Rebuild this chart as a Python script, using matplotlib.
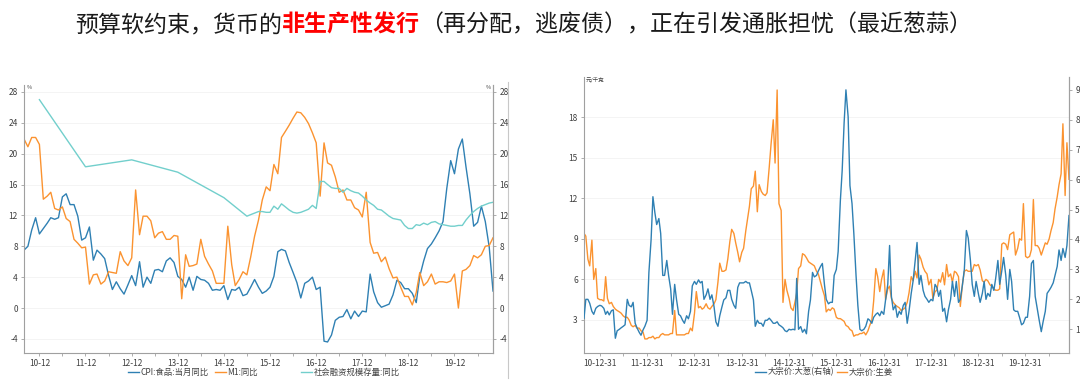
import numpy as np
import pandas as pd
import matplotlib
matplotlib.use("Agg")
import matplotlib.pyplot as plt
import matplotlib.dates as mdates
from matplotlib.lines import Line2D

plt.rcParams['font.family'] = ['Noto Sans CJK SC', 'DejaVu Sans']
plt.rcParams['axes.unicode_minus'] = False

# ---------------- data ----------------
title_parts = [("预算软约束，货币的", "#1a1a1a", "normal"),
               ("非生产性发行", "#ff0000", "bold"),
               ("（再分配，逃废债），正在引发通胀担忧（最近葱蒜）", "#1a1a1a", "normal")]

macro_start = "2010-08"
cpi_food = [7.5, 8.0, 10.1, 11.7, 9.6,
            10.3, 11.0, 11.7, 11.5, 11.7, 14.4, 14.8, 13.4, 13.4, 11.9, 8.8, 9.1,
            10.5, 6.2, 7.5, 7.0, 6.4, 4.2, 2.4, 3.4, 2.5, 1.8, 3.0, 4.2,
            2.9, 6.0, 2.7, 4.0, 3.2, 4.9, 5.0, 4.7, 6.1, 6.5, 5.9, 4.1,
            3.7, 2.7, 4.0, 2.3, 4.1, 3.7, 3.6, 3.2, 2.3, 2.4, 2.3, 2.9,
            1.1, 2.4, 2.3, 2.7, 1.6, 1.8, 2.7, 3.7, 2.7, 1.9, 2.2, 2.7,
            4.1, 7.3, 7.6, 7.4, 5.9, 4.6, 3.3, 1.3, 3.2, 3.5, 4.0, 2.4,
            2.7, -4.3, -4.4, -3.5, -1.6, -1.2, -1.1, -0.2, -1.4, -0.4, -1.1, -0.4,
            -0.5, 4.4, 2.1, 0.7, 0.1, 0.3, 0.5, 1.7, 3.6, 3.3, 2.5, 2.5,
            1.9, 0.7, 4.1, 6.1, 7.7, 8.3, 9.1, 10.0, 11.2, 15.5, 19.1, 17.4,
            20.6, 21.9, 18.3, 14.8, 10.6, 11.1, 13.2, 11.2, 7.9, 2.2]
m1_yoy = [21.9, 20.9, 22.1, 22.1, 21.2,
          14.1, 14.5, 15.0, 12.9, 12.7, 13.1, 11.6, 11.2, 8.9, 8.4, 7.8, 7.9,
          3.1, 4.3, 4.4, 3.1, 3.5, 4.7, 4.6, 4.5, 7.3, 6.1, 5.5, 6.5,
          15.3, 9.5, 11.9, 11.9, 11.3, 9.1, 9.7, 9.9, 8.9, 8.9, 9.4, 9.3,
          1.2, 6.9, 5.4, 5.5, 5.7, 8.9, 6.7, 5.7, 4.8, 3.2, 3.2, 3.2,
          10.6, 5.6, 2.9, 3.7, 4.7, 4.3, 6.6, 9.3, 11.4, 14.0, 15.7, 15.2,
          18.6, 17.4, 22.1, 22.9, 23.7, 24.6, 25.4, 25.3, 24.7, 23.9, 22.7, 21.4,
          14.5, 21.4, 18.8, 18.5, 17.0, 15.0, 15.3, 14.0, 14.0, 13.0, 12.7, 11.8,
          15.0, 8.5, 7.1, 7.2, 6.0, 6.6, 5.1, 3.9, 4.0, 2.7, 1.5, 1.5,
          0.4, 2.0, 4.6, 2.9, 3.4, 4.4, 3.1, 3.4, 3.4, 3.3, 3.5, 4.4,
          0.0, 4.8, 5.0, 5.5, 6.8, 6.5, 6.9, 8.0, 8.1, 9.1]
sf_annual_dates = ["2010-12", "2011-12", "2012-12", "2013-12", "2014-12"]
sf_annual = [27.0, 18.3, 19.2, 17.6, 14.3]
sf_monthly_start = "2015-06"
sf_monthly = [11.9, 12.1, 12.3, 12.5, 12.5, 12.4, 12.4, 13.2, 12.8, 13.5, 13.1, 12.7,
              12.4, 12.3, 12.4, 12.6, 12.8, 13.3, 12.9, 16.4, 16.4, 16.0, 15.6, 15.5,
              15.5, 15.0, 15.5, 15.2, 15.0, 14.9, 14.5, 14.0, 13.6, 13.3, 12.8, 12.7,
              12.3, 11.9, 11.6, 11.5, 11.4, 10.7, 10.3, 10.3, 10.8, 10.7, 11.0, 10.8,
              11.1, 11.2, 10.9, 10.8, 10.7, 10.6, 10.6, 10.7, 10.7, 11.4, 12.0, 12.5,
              12.9, 13.2, 13.4, 13.6, 13.7]
left_labels = ["CPI:食品:当月同比", "M1:同比", "社会融资规模存量:同比"]
left_ticks = [-4, 0, 4, 8, 12, 16, 20, 24, 28]

price_start = "2010-09-01"   # semi-monthly observations
ginger = [9.4, 9.2, 7.5, 7.0, 8.9, 6.0, 6.8, 4.6, 4.5, 4.5, 4.4, 6.2, 4.6, 4.2, 4.3, 4.0,
          3.8, 3.7, 3.6, 3.5, 3.3, 3.2, 3.2, 3.0, 2.6, 2.5, 2.6, 2.4, 2.4, 2.2, 2.1, 1.6,
          1.6, 1.7, 1.7, 1.8, 1.6, 1.7, 1.7, 1.9, 2.0, 1.9, 1.9, 1.9, 2.0, 2.0, 3.7, 1.9,
          1.9, 1.9, 1.9, 1.9, 2.0, 2.0, 2.4, 2.2, 3.5, 5.1, 3.9, 4.0, 3.8, 3.9, 4.2, 3.9,
          3.8, 4.0, 4.2, 4.5, 5.8, 7.2, 6.6, 6.6, 6.7, 7.5, 8.8, 9.7, 9.4, 8.7, 8.0, 7.3,
          8.0, 8.3, 9.6, 10.5, 11.4, 12.7, 12.9, 14.0, 11.0, 13.0, 12.5, 12.3, 12.2, 12.4, 14.3, 16.0,
          17.8, 14.6, 20.0, 11.6, 11.1, 4.3, 6.0, 5.2, 4.6, 3.9, 3.7, 4.3, 5.0, 6.8, 7.0, 7.9,
          7.8, 7.6, 7.3, 7.2, 7.1, 7.0, 6.6, 6.4, 5.8, 5.3, 4.8, 3.6, 3.8, 3.7, 3.9, 3.8,
          3.2, 3.1, 3.1, 3.0, 2.9, 2.6, 2.5, 2.3, 2.2, 1.8, 1.9, 1.9, 2.0, 2.0, 2.1, 1.9,
          2.2, 2.6, 3.0, 4.4, 6.8, 6.2, 5.1, 6.0, 6.7, 4.5, 5.3, 5.5, 4.6, 4.3, 4.1, 4.0,
          3.9, 3.7, 3.8, 3.9, 4.3, 5.0, 6.2, 5.9, 6.6, 6.1, 7.8, 7.5, 6.9, 6.6, 6.4, 5.6,
          6.0, 4.6, 5.1, 5.2, 6.0, 5.8, 6.5, 5.6, 7.1, 6.2, 6.4, 5.8, 6.6, 6.5, 6.2, 4.0,
          5.7, 6.6, 6.7, 6.6, 6.6, 6.6, 7.1, 7.0, 7.1, 6.7, 5.9, 5.8, 6.0, 5.9, 5.6, 5.5,
          5.3, 5.2, 5.2, 5.3, 8.6, 8.7, 8.6, 8.2, 9.3, 9.4, 9.5, 7.8, 8.3, 9.0, 8.9, 11.6,
          7.7, 7.6, 7.7, 8.2, 11.9, 8.5, 8.5, 8.3, 7.8, 8.2, 8.7, 8.6, 9.0, 9.6, 10.2, 11.2,
          12.1, 13.0, 13.8, 17.5, 12.2, 16.1, 13.4]
scallion = [1.37, 2.0, 2.0, 1.87, 1.6, 1.5, 1.7, 1.76, 1.8, 1.78, 1.7, 1.5, 1.6, 1.48, 1.62, 1.65,
            0.7, 0.95, 1.0, 1.05, 1.1, 1.15, 2.0, 1.8, 1.75, 1.9, 1.2, 1.05, 0.9, 0.8, 0.98, 1.1,
            1.3, 2.9, 4.0, 5.43, 4.9, 4.5, 4.7, 4.2, 2.8, 2.8, 3.3, 2.8, 2.35, 1.5, 2.5, 2.0,
            1.5, 1.45, 1.3, 1.2, 1.45, 1.35, 1.6, 2.45, 2.6, 2.5, 2.65, 2.55, 2.6, 2.0, 2.15, 2.35,
            2.0, 2.15, 1.75, 1.25, 1.1, 1.45, 1.75, 1.98, 2.05, 2.3, 2.3, 2.0, 1.8, 1.7, 2.4, 2.55,
            2.55, 2.55, 2.6, 2.55, 2.55, 2.3, 1.98, 1.1, 1.3, 1.2, 1.2, 1.1, 1.3, 1.3, 1.37, 1.3,
            1.2, 1.2, 1.25, 1.15, 1.1, 1.05, 0.95, 0.92, 1.0, 0.98, 1.0, 0.98, 2.7, 1.0, 1.09, 0.9,
            1.0, 0.85, 1.6, 1.98, 2.9, 2.75, 2.8, 2.95, 3.1, 3.2, 2.5, 2.0, 1.85, 1.9, 1.9, 2.8,
            3.0, 3.6, 5.3, 6.3, 7.9, 9.0, 8.1, 5.8, 5.2, 4.2, 2.8, 1.8, 1.0, 0.95, 1.0, 1.1,
            1.35, 1.3, 1.2, 1.4, 1.5, 1.55, 1.45, 1.6, 1.5, 1.98, 2.5, 3.8, 2.1, 1.65, 1.8, 1.4,
            1.6, 1.5, 1.8, 1.9, 1.2, 1.6, 2.2, 2.6, 3.3, 3.9, 2.5, 2.8, 2.3, 2.1, 2.0, 1.9,
            2.0, 1.95, 2.5, 2.4, 2.1, 2.3, 1.6, 1.7, 1.25, 1.65, 2.0, 2.6, 2.1, 2.6, 1.9, 2.0,
            2.5, 3.0, 4.3, 4.05, 3.3, 2.5, 2.1, 2.6, 2.2, 1.9, 2.2, 2.6, 2.0, 2.2, 2.1, 2.5,
            2.3, 2.7, 3.3, 2.5, 2.95, 3.4, 2.8, 2.0, 3.0, 2.6, 1.65, 1.6, 1.6, 1.4, 1.15, 1.2,
            1.4, 1.4, 2.1, 3.2, 3.3, 2.1, 1.65, 1.3, 0.92, 1.25, 1.6, 2.2, 2.3, 2.4, 2.55, 2.8,
            3.1, 3.65, 3.3, 3.7, 3.4, 3.8, 4.8]
right_labels = ["大宗价:大葱(右轴)", "大宗价:生姜"]
ginger_ticks = [3, 6, 9, 12, 15, 18]
scallion_ticks = [1, 2, 3, 4, 5, 6, 7, 8, 9]

# ---------------- style ----------------
C_BLUE = "#2f80b3"
C_ORANGE = "#fb9330"
C_CYAN = "#72cfcc"
SPINE = "#a0a0a0"
TXT = "#404040"
GRID = "#f2f2f2"
W, H = 1080, 388

fig = plt.figure(figsize=(W / 100, H / 100), dpi=100)
fig.patch.set_facecolor("white")

# title built from coloured segments
renderer = fig.canvas.get_renderer()
x = 75 / W
for txt, col, wt in title_parts:
    t = fig.text(x, 1 - 25 / H, txt, color=col, fontsize=16.55, fontweight=wt,
                 va="center", ha="left")
    bb = t.get_window_extent(renderer)
    x = bb.x1 / W


def style_axis(ax, sides):
    for s in ["top", "left", "right", "bottom"]:
        ax.spines[s].set_visible(s in sides)
        ax.spines[s].set_color(SPINE)
        ax.spines[s].set_linewidth(0.8)
    ax.tick_params(axis="both", labelsize=6, colors=SPINE, labelcolor=TXT,
                   length=2.5, width=0.6, pad=2)
    ax.tick_params(axis="x", which="minor", length=1.8, width=0.6, colors=SPINE)


# ---------------- left chart ----------------
axL = fig.add_axes([24 / W, 1 - 353 / H, 469 / W, 268 / H])
mdates_idx = pd.date_range(macro_start, periods=len(cpi_food), freq="MS")
sf_dates = list(pd.to_datetime(sf_annual_dates)) + list(
    pd.date_range(sf_monthly_start, periods=len(sf_monthly), freq="MS"))
sf_vals = sf_annual + sf_monthly

l1, = axL.plot(mdates_idx, cpi_food, color=C_BLUE, lw=1.0)
l2, = axL.plot(mdates_idx, m1_yoy, color=C_ORANGE, lw=1.0)
l3, = axL.plot(sf_dates, sf_vals, color=C_CYAN, lw=1.0)

axL.set_xlim(mdates_idx[0], mdates_idx[-1])
axL.set_ylim(-5.83, 28.9)
axL.set_yticks(left_ticks)
axL.yaxis.grid(True, color=GRID, lw=0.6)
axL.set_axisbelow(True)
axL.xaxis.set_major_locator(mdates.MonthLocator(bymonth=12))
axL.xaxis.set_minor_locator(mdates.MonthLocator(bymonth=6))
axL.xaxis.set_major_formatter(mdates.DateFormatter("%y-%m"))
style_axis(axL, ["left", "bottom", "right"])
axL2 = axL.twinx()
axL2.set_ylim(axL.get_ylim())
axL2.set_yticks(left_ticks)
style_axis(axL2, ["right"])
axL.text(0.005, 1.0, "%", transform=axL.transAxes, fontsize=4, color=TXT,
         ha="left", va="top")
axL.text(0.995, 1.0, "%", transform=axL.transAxes, fontsize=4, color=TXT,
         ha="right", va="top")

leg_y = 1 - 372 / H
for line, lab, xpos in zip([l1, l2, l3], left_labels, [128, 215, 301]):
    lg = fig.legend([line], [lab], loc="center left",
                    bbox_to_anchor=(xpos / W, leg_y), frameon=False, fontsize=6,
                    handlelength=1.3, handletextpad=0.2, borderpad=0,
                    borderaxespad=0, labelcolor=TXT)

# panel separator
fig.add_artist(Line2D([508 / W, 508 / W], [1 - 82 / H, 1 - 378 / H],
                      color="#c8c8c8", lw=0.8, transform=fig.transFigure))

# ---------------- right chart ----------------
axR = fig.add_axes([584 / W, 1 - 353 / H, 485 / W, 276 / H])
pdates = pd.date_range(price_start, periods=len(ginger), freq="SMS")
r2, = axR.plot(pdates, ginger, color=C_ORANGE, lw=1.0)
axR.set_xlim(pdates[0], pdates[-1])
axR.set_ylim(0.56, 20.96)
axR.set_yticks(ginger_ticks)
axR.yaxis.grid(True, color=GRID, lw=0.6)
axR.set_axisbelow(True)
ticks = pd.to_datetime([f"{y}-12-31" for y in range(2010, 2020)])
axR.set_xticks(ticks)
axR.set_xticklabels([d.strftime("%y-%m-%d") for d in ticks])
axR.set_xticks(pd.to_datetime([f"{y}-06-30" for y in range(2011, 2021)]), minor=True)
style_axis(axR, ["left", "bottom", "right"])
axR2 = axR.twinx()
r1, = axR2.plot(pdates, scallion, color=C_BLUE, lw=1.0)
axR2.set_ylim(0.207, 9.43)
axR2.set_yticks(scallion_ticks)
style_axis(axR2, ["right"])
axR.text(0.003, 1.0, "元/千克", transform=axR.transAxes, fontsize=4, color=TXT,
         ha="left", va="top")

fig.legend([r1, r2], right_labels, loc="center left",
           bbox_to_anchor=(755 / W, leg_y), frameon=False, fontsize=6, ncol=2,
           handlelength=1.3, handletextpad=0.2, columnspacing=0.3, borderpad=0,
           borderaxespad=0, labelcolor=TXT)

fig.savefig("out.png", dpi=100)
